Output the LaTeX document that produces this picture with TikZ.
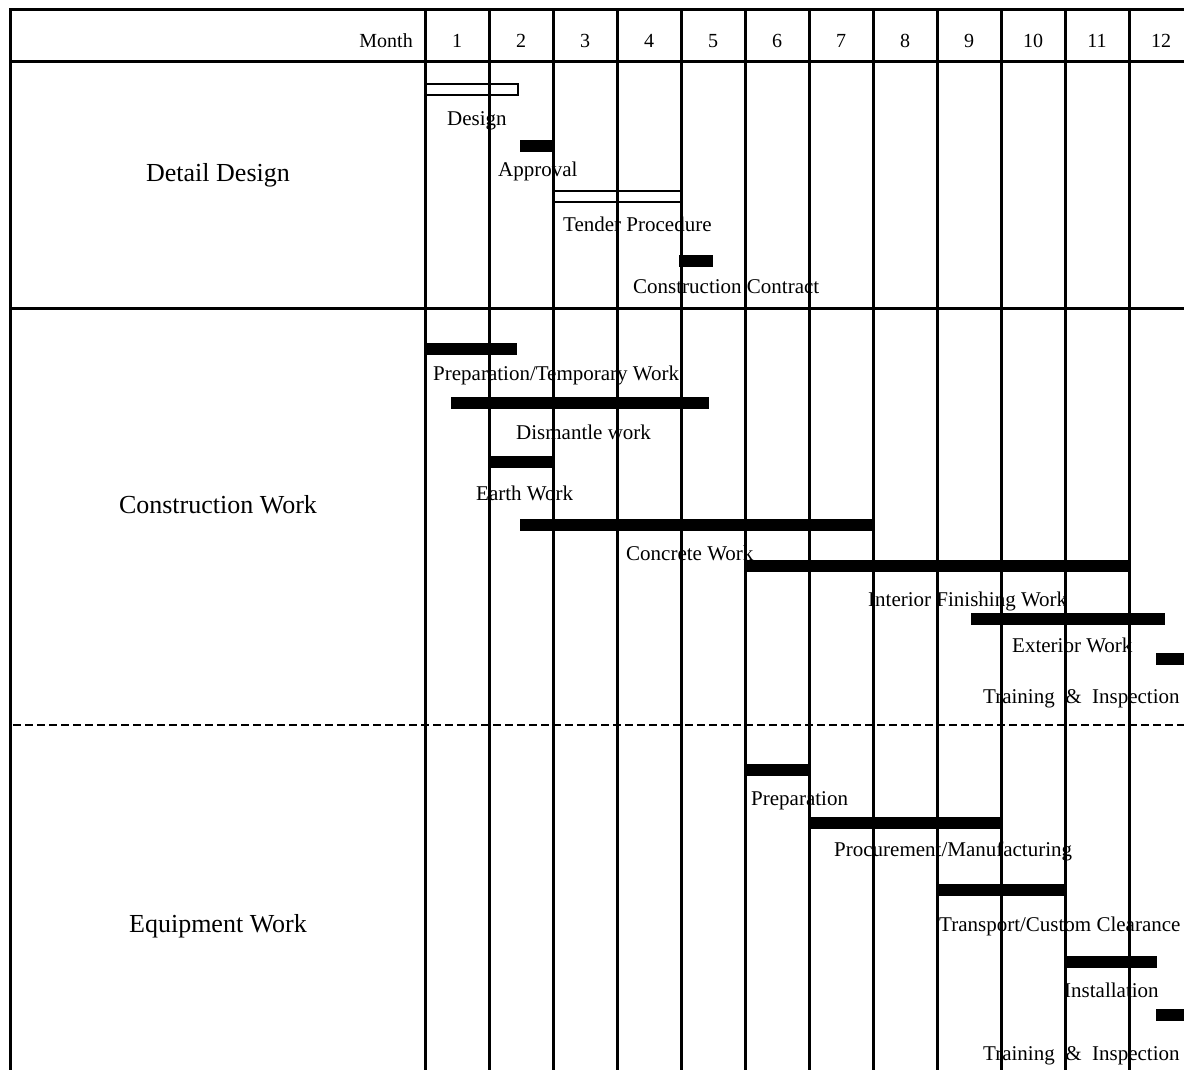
\documentclass[tikz,border=0pt]{standalone}
\usepackage{fontspec}
\setmainfont{Liberation Serif}

\begin{document}
\begin{tikzpicture}
[x=1pt,y=-1pt,
  gridLine/.style={line width=3pt},
  dashLine/.style={line width=2pt,dash pattern=on 8pt off 4pt},
  openBar/.style={draw,line width=2.5pt},
  doneBar/.style={fill=black},
  taskLabel/.style={anchor=base west,inner sep=0pt,font=\fontsize{21}{24}\selectfont},
  headLabel/.style={anchor=base,inner sep=0pt,font=\fontsize{20}{24}\selectfont},
  groupLabel/.style={anchor=base,inner sep=0pt,font=\fontsize{26}{30}\selectfont}]
\useasboundingbox (0,0) rectangle (1184,1070);
%% header row
\node (month) at (413,48) [headLabel,anchor=base east] {Month};
\foreach \m in {1,...,12}
{
  \node (m\m) at (393+64*\m,48) [headLabel] {\m};
}
%% work groups
\foreach \gname/\y/\gtext in {
  detail/182/Detail Design,
  construction/513/Construction Work,
  equipment/932/Equipment Work}
{
  \node (\gname) at (218,\y) [groupLabel] {\gtext};
}
%% task labels
\foreach \tname/\x/\y/\ttext in {
  design/447/126/Design,
  approval/498/177/Approval,
  tender/563/231/Tender Procedure,
  contract/633/293/Construction Contract,
  prepTemp/433/380/{Preparation/Temporary Work},
  dismantle/516/439/Dismantle work,
  earth/476/500/Earth Work,
  concrete/626/560/Concrete Work,
  interior/868/606/Interior Finishing Work,
  exterior/1012/652/Exterior Work,
  trainCon/983/703/{Training\ \ \&\ \ Inspection},
  prepEq/751/805/Preparation,
  procure/834/856/{Procurement/Manufacturing},
  transport/939/931/{Transport/Custom Clearance},
  install/1064/997/Installation,
  trainEq/983/1060/{Training\ \ \&\ \ Inspection}}
{
  \node (\tname) at (\x,\y) [taskLabel] {\ttext};
}
%% bars
\foreach \xa/\xb/\ya in {426/518/84, 553/681/191}
{
  \draw[openBar] (\xa,\ya) rectangle (\xb,\ya+11);
}
\foreach \xa/\xb/\ya in {
  520/553/140, 679/713/255,
  425/517/343, 451/709/397, 489/553/456, 520/873/519,
  745/1130/560, 971/1165/613, 1156/1184/653,
  745/809/764, 809/1001/817, 937/1065/884, 1065/1157/956,
  1156/1184/1009}
{
  \fill[doneBar] (\xa,\ya) rectangle (\xb,\ya+12);
}
%% table lines
\draw[gridLine] (9,10) -- (1184,10);
\draw[gridLine] (9,62) -- (1184,62);
\draw[gridLine] (9,308) -- (1184,308);
\draw[gridLine] (10,10) -- (10,1070);
\foreach \i in {0,...,11}
{
  \draw[gridLine] (425+64*\i,10) -- (425+64*\i,1070);
}
\draw[dashLine] (13,725) -- (1184,725);
\end{tikzpicture}
\end{document}
